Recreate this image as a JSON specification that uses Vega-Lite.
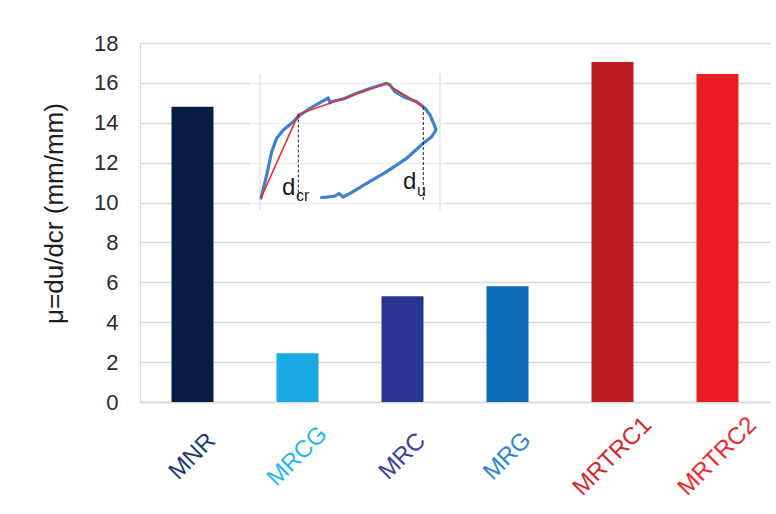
{
  "$schema": "https://vega.github.io/schema/vega-lite/v6.json",
  "width": 630,
  "height": 359,
  "autosize": {"type": "none"},
  "padding": {"left": 140, "top": 43, "right": 6, "bottom": 112},
  "background": "white",
  "config": {"view": {"stroke": null}, "font": "Liberation Sans"},
  "datasets": {
    "bars": [
      {"specimen": "MNR", "mu": 14.8},
      {"specimen": "MRCG", "mu": 2.45},
      {"specimen": "MRC", "mu": 5.3},
      {"specimen": "MRG", "mu": 5.8},
      {"specimen": "MRTRC1", "mu": 17.05},
      {"specimen": "MRTRC2", "mu": 16.45}
    ],
    "panel": [{"ix0": -10, "ix1": 185, "iy0": -13, "iy1": 128}],
    "vlines": [{"ix": 0, "iy0": -13, "iy1": 124}, {"ix": 180, "iy0": -13, "iy1": 124}],
    "blue": [
      {"i": 1, "ix": 1, "iy": -0.5},
      {"i": 2, "ix": 6.7, "iy": 22.5},
      {"i": 3, "ix": 11.7, "iy": 45.8},
      {"i": 4, "ix": 16.7, "iy": 59.2},
      {"i": 5, "ix": 23.3, "iy": 67.5},
      {"i": 6, "ix": 33.3, "iy": 75.8},
      {"i": 7, "ix": 40, "iy": 82.5},
      {"i": 8, "ix": 50, "iy": 89.2},
      {"i": 9, "ix": 61.7, "iy": 95.8},
      {"i": 10, "ix": 68.3, "iy": 99.5},
      {"i": 11, "ix": 70, "iy": 94.5},
      {"i": 12, "ix": 72.7, "iy": 96.3},
      {"i": 13, "ix": 83.3, "iy": 98.5},
      {"i": 14, "ix": 96.7, "iy": 104.2},
      {"i": 15, "ix": 110, "iy": 109},
      {"i": 16, "ix": 126.7, "iy": 114.2},
      {"i": 17, "ix": 130, "iy": 112.5},
      {"i": 18, "ix": 135, "iy": 105.8},
      {"i": 19, "ix": 143.3, "iy": 100.8},
      {"i": 20, "ix": 156.7, "iy": 95.8},
      {"i": 21, "ix": 165, "iy": 89.2},
      {"i": 22, "ix": 170, "iy": 82.5},
      {"i": 23, "ix": 175, "iy": 70.8},
      {"i": 24, "ix": 176, "iy": 67.5},
      {"i": 25, "ix": 171.7, "iy": 60.8},
      {"i": 26, "ix": 163.3, "iy": 54.2},
      {"i": 27, "ix": 146.7, "iy": 39.2},
      {"i": 28, "ix": 126.7, "iy": 25.8},
      {"i": 29, "ix": 106.7, "iy": 14.2},
      {"i": 30, "ix": 90, "iy": 4.2},
      {"i": 31, "ix": 83, "iy": 0.5},
      {"i": 32, "ix": 79, "iy": 4},
      {"i": 33, "ix": 75, "iy": 1.5},
      {"i": 34, "ix": 64, "iy": 0},
      {"i": 35, "ix": 61.5, "iy": 0}
    ],
    "red": [
      {"i": 1, "ix": 1, "iy": -0.5},
      {"i": 2, "ix": 38.3, "iy": 83.2},
      {"i": 3, "ix": 126.7, "iy": 114.2},
      {"i": 4, "ix": 133.3, "iy": 109.2},
      {"i": 5, "ix": 150, "iy": 99.2},
      {"i": 6, "ix": 163.3, "iy": 90.8}
    ],
    "dash": [
      {"ix": 38.3, "iy0": 0, "iy1": 83.2},
      {"ix": 163.3, "iy0": -2.5, "iy1": 90.8}
    ],
    "dmain": [
      {"ix": 22, "iy": 3, "t": "d"},
      {"ix": 143, "iy": 8.5, "t": "d"}
    ],
    "dsub": [
      {"ix": 36, "iy": -3, "t": "cr"},
      {"ix": 157, "iy": 1.5, "t": "u"}
    ]
  },
  "layer": [
    {
      "data": {"name": "bars"},
      "mark": {"type": "bar"},
      "encoding": {
        "x": {
          "field": "specimen",
          "type": "nominal",
          "sort": null,
          "scale": {"paddingInner": 0.6, "paddingOuter": 0.3},
          "axis": {
            "title": null,
            "labelAngle": -45,
            "labelAlign": "center",
            "labelBaseline": "middle",
            "labelPadding": 54,
            "ticks": false,
            "tickSize": 0,
            "domainColor": "#d9d9d9",
            "domainWidth": 1.5,
            "labelFontSize": 24,
            "labelFont": "Liberation Sans",
            "labelLimit": 0,
            "labelColor": {
              "condition": [
                {"test": "datum.value === 'MNR'", "value": "#1e3a6e"},
                {"test": "datum.value === 'MRCG'", "value": "#29b5ec"},
                {"test": "datum.value === 'MRC'", "value": "#3e3f9e"},
                {"test": "datum.value === 'MRG'", "value": "#2d86cf"},
                {"test": "datum.value === 'MRTRC1'", "value": "#d3282e"}
              ],
              "value": "#ee2930"
            }
          }
        },
        "y": {
          "field": "mu",
          "type": "quantitative",
          "scale": {"domain": [0, 18], "nice": false},
          "axis": {
            "values": [0, 2, 4, 6, 8, 10, 12, 14, 16, 18],
            "grid": true,
            "gridColor": "#d9d9d9",
            "gridWidth": 1.5,
            "domain": true,
            "domainColor": "#d9d9d9",
            "ticks": false,
            "tickSize": 0,
            "labelPadding": 22,
            "labelFontSize": 22,
            "labelColor": "#2b2b2b",
            "labelFont": "Liberation Sans",
            "title": "μ=du/dcr (mm/mm)",
            "titleFont": "Liberation Sans",
            "titleFontSize": 26,
            "titleFontWeight": "normal",
            "titleColor": "#1e1e1e",
            "titleAlign": "center",
            "titleBaseline": "middle",
            "titleAngle": -90,
            "titleX": -86,
            "titleY": 170
          }
        },
        "color": {
          "field": "specimen",
          "type": "nominal",
          "legend": null,
          "scale": {
            "domain": ["MNR", "MRCG", "MRC", "MRG", "MRTRC1", "MRTRC2"],
            "range": ["#071b47", "#19aae3", "#283593", "#0b6cb7", "#bd1e24", "#ec1c24"]
          }
        }
      }
    },
    {
      "data": {"name": "panel"},
      "mark": {"type": "rect", "fill": "white", "opacity": 0.6},
      "encoding": {
        "x": {"field": "ix0", "type": "quantitative", "scale": {"domain": [-120, 510]}, "axis": null},
        "x2": {"field": "ix1"},
        "y": {"field": "iy0", "type": "quantitative", "scale": {"domain": [-204.5, 154.5]}, "axis": null},
        "y2": {"field": "iy1"}
      }
    },
    {
      "data": {"name": "vlines"},
      "mark": {"type": "rule", "color": "#dddddd", "strokeWidth": 1.2},
      "encoding": {
        "x": {"field": "ix", "type": "quantitative", "scale": {"domain": [-120, 510]}, "axis": null},
        "y": {"field": "iy0", "type": "quantitative", "scale": {"domain": [-204.5, 154.5]}, "axis": null},
        "y2": {"field": "iy1"}
      }
    },
    {
      "data": {"name": "blue"},
      "mark": {"type": "line", "color": "#3f80d0", "strokeWidth": 3.2, "strokeJoin": "round", "strokeCap": "round"},
      "encoding": {
        "x": {"field": "ix", "type": "quantitative", "scale": {"domain": [-120, 510]}, "axis": null},
        "y": {"field": "iy", "type": "quantitative", "scale": {"domain": [-204.5, 154.5]}, "axis": null},
        "order": {"field": "i", "type": "quantitative"}
      }
    },
    {
      "data": {"name": "red"},
      "mark": {"type": "line", "color": "#ee2a2e", "strokeWidth": 1.6},
      "encoding": {
        "x": {"field": "ix", "type": "quantitative", "scale": {"domain": [-120, 510]}, "axis": null},
        "y": {"field": "iy", "type": "quantitative", "scale": {"domain": [-204.5, 154.5]}, "axis": null},
        "order": {"field": "i", "type": "quantitative"}
      }
    },
    {
      "data": {"name": "dash"},
      "mark": {"type": "rule", "color": "#222222", "strokeWidth": 1, "strokeDash": [3, 2]},
      "encoding": {
        "x": {"field": "ix", "type": "quantitative", "scale": {"domain": [-120, 510]}, "axis": null},
        "y": {"field": "iy0", "type": "quantitative", "scale": {"domain": [-204.5, 154.5]}, "axis": null},
        "y2": {"field": "iy1"}
      }
    },
    {
      "data": {"name": "dmain"},
      "mark": {"type": "text", "align": "left", "baseline": "alphabetic", "fontSize": 24, "font": "Liberation Sans", "color": "#1a1a1a"},
      "encoding": {
        "x": {"field": "ix", "type": "quantitative", "scale": {"domain": [-120, 510]}, "axis": null},
        "y": {"field": "iy", "type": "quantitative", "scale": {"domain": [-204.5, 154.5]}, "axis": null},
        "text": {"field": "t"}
      }
    },
    {
      "data": {"name": "dsub"},
      "mark": {"type": "text", "align": "left", "baseline": "alphabetic", "fontSize": 16, "font": "Liberation Sans", "color": "#1a1a1a"},
      "encoding": {
        "x": {"field": "ix", "type": "quantitative", "scale": {"domain": [-120, 510]}, "axis": null},
        "y": {"field": "iy", "type": "quantitative", "scale": {"domain": [-204.5, 154.5]}, "axis": null},
        "text": {"field": "t"}
      }
    }
  ],
  "resolve": {
    "scale": {"x": "independent", "y": "independent", "color": "independent"},
    "axis": {"x": "independent", "y": "independent"}
  }
}
